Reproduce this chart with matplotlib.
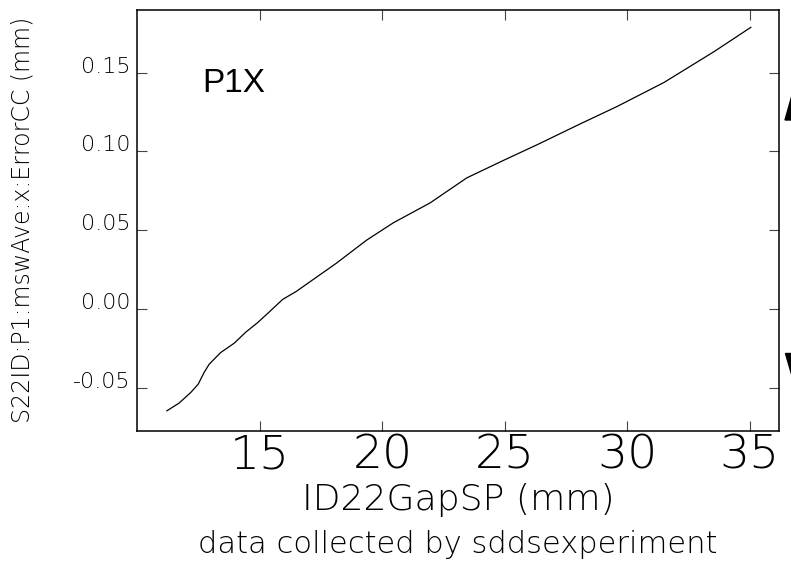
import matplotlib
matplotlib.use('Agg')
import matplotlib.pyplot as plt
from matplotlib.patches import Polygon

# readings taken off the reference plot
gap = [11.2, 11.7, 12.18, 12.48, 12.72, 12.93, 13.4, 13.95, 14.43, 14.91, 15.38,
       15.93, 16.47, 18.11, 19.36, 20.45, 21.95, 23.45, 24.95, 26.32, 28.09,
       29.59, 31.5, 33.55, 35.05]
err = [-0.0646, -0.0597, -0.0529, -0.0477, -0.0403, -0.035, -0.0276, -0.0217,
       -0.0146, -0.0086, -0.0019, 0.0061, 0.011, 0.0289, 0.0437, 0.0547, 0.0673,
       0.0832, 0.0943, 0.1042, 0.1175, 0.1285, 0.1437, 0.1633, 0.1787]
xticks = [15, 20, 25, 30, 35]
yticks = [-0.05, 0.00, 0.05, 0.10, 0.15]
ytick_labels = ['-0.05', '0.00', '0.05', '0.10', '0.15']

thin = dict(family=['DejaVu Sans'], fontweight=200)

fig = plt.figure(figsize=(7.91, 5.62), dpi=100)
ax = fig.add_axes([0.1738, 0.2331, 0.8110, 0.7491])

ax.plot(gap, err, color='black', linewidth=0.9)
ax.set_xlim(10.0, 36.2)
ax.set_ylim(-0.0774, 0.1897)

ax.set_xticks(xticks)
ax.set_xticklabels([str(t) for t in xticks], fontsize=34, **thin)
ax.set_yticks(yticks)
ax.set_yticklabels(ytick_labels, fontsize=16, **thin)
for lab in ax.get_yticklabels():
    lab.set_va('baseline')
ax.tick_params(direction='in', length=7, width=0.8, color='#444444',
               top=True, right=True)
ax.tick_params(axis='x', pad=2)
ax.tick_params(axis='y', pad=5)
for s in ax.spines.values():
    s.set_linewidth(1.1)
    s.set_color('black')

ax.set_xlabel('ID22GapSP (mm)', fontsize=26, **thin)
ax.xaxis.label.set_va('baseline')
ax.xaxis.set_label_coords(0.5, -0.1876)

fig.text(23 / 791, 1 - 220 / 562, 'S22ID:P1:mswAve:x:ErrorCC (mm)', rotation=90,
         ha='center', va='center', fontsize=17, **thin)
fig.text(458 / 791, 1 - 553 / 562, 'data collected by sddsexperiment',
         ha='center', va='baseline', fontsize=22, **thin)

ax.text(0.1005, 0.806, 'P1X', transform=ax.transAxes, fontsize=24,
        family='Liberation Sans', va='baseline', ha='left')

# bits of the plot window's scroll arrows peeking in at the right edge
fig.patches.append(Polygon([(785 / 791, 1 - 120 / 562), (1.001, 1 - 96 / 562),
                            (1.001, 1 - 120 / 562)], closed=True, color='black',
                           transform=fig.transFigure, figure=fig))
fig.patches.append(Polygon([(785 / 791, 1 - 353 / 562), (1.001, 1 - 353 / 562),
                            (1.001, 1 - 377 / 562)], closed=True, color='black',
                           transform=fig.transFigure, figure=fig))

fig.savefig('out.png', dpi=100)
